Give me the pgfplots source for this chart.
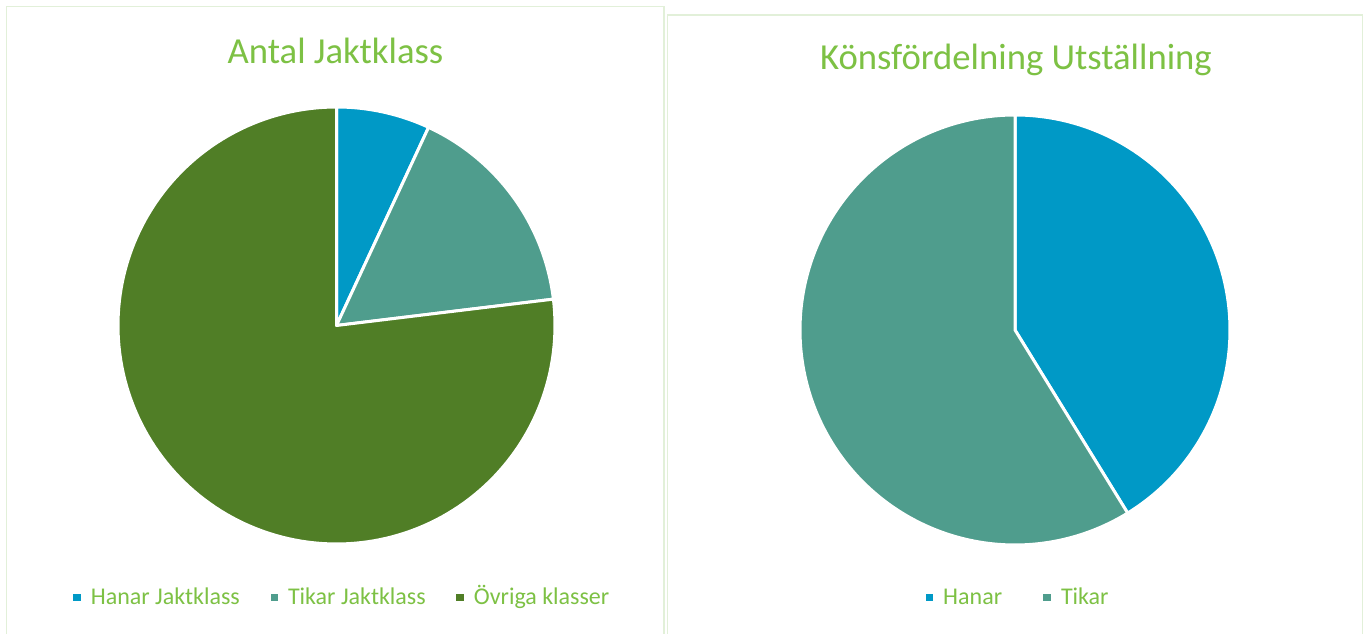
\documentclass[border=0pt]{standalone}
\usepackage{pgfplots}
\pgfplotsset{compat=1.18}
\usepackage{pgfplotstable}
\usepackage{fontspec}
\setmainfont{Carlito}

\definecolor{cBlue}{RGB}{0,153,198}
\definecolor{cTeal}{RGB}{79,157,141}
\definecolor{cGreen}{RGB}{80,126,38}
\definecolor{tgreen}{RGB}{125,193,68}
\definecolor{frameg}{RGB}{226,240,217}

% Antal Jaktklass
\pgfplotstableread{
kategori antal
Hanar 9
Tikar 21
Ovriga 100
}\jaktdata
% Könsfördelning Utställning
\pgfplotstableread{
kategori antal
Hanar 54
Tikar 77
}\konsdata

\pgfplotstablegetelem{0}{antal}\of\jaktdata\edef\jA{\pgfplotsretval}
\pgfplotstablegetelem{1}{antal}\of\jaktdata\edef\jB{\pgfplotsretval}
\pgfplotstablegetelem{2}{antal}\of\jaktdata\edef\jC{\pgfplotsretval}
\pgfplotstablegetelem{0}{antal}\of\konsdata\edef\kA{\pgfplotsretval}
\pgfplotstablegetelem{1}{antal}\of\konsdata\edef\kB{\pgfplotsretval}

\pgfmathsetmacro\jT{\jA+\jB+\jC}
\pgfmathsetmacro\jaOne{90-360*(\jA/\jT)}
\pgfmathsetmacro\jaTwo{90-360*((\jA+\jB)/\jT)}
\pgfmathsetmacro\kT{\kA+\kB}
\pgfmathsetmacro\kaOne{90-360*(\kA/\kT)}

\pgfplotsset{
  piestyle/.style={
    hide axis, scale only axis, clip=false,
    xmin=-1, xmax=1, ymin=-1, ymax=1,
    anchor=center,
    legend image code/.code={\path[##1, draw=none] (0pt,2.9pt) rectangle (5.55pt,8.45pt);},
    legend style={draw=none, fill=none, inner sep=0pt, outer sep=0pt,
      anchor=south west, legend columns=-1,
      font=\fontsize{18}{20}\selectfont, text=tgreen,
      cells={anchor=base west},
      nodes={inner sep=0pt, text depth=0pt, text height=10pt},
      /tikz/every odd column/.append style={column sep=7.6pt}},
  },
  wedge/.style={draw=white, line width=2.25pt, line join=round, samples=160},
}

\begin{document}
\begin{tikzpicture}
\useasboundingbox (0pt,0pt) rectangle (1023pt,475.5pt);
\fill[white] (0pt,0pt) rectangle (1023pt,475.5pt);
% frames
\begin{scope}[x=0.75pt, y=0.75pt]
\draw[frameg, line width=1.3pt] (6.5,-20) -- (6.5,627.5) -- (664,627.5) -- (664,-20);
\draw[frameg, line width=1.3pt] (667.5,-20) -- (667.5,619) -- (1362.5,619) -- (1362.5,-20);
% titles
\node[anchor=base, inner sep=0pt, text=tgreen, font=\fontsize{27.5}{30}\selectfont] at (335.5,570.7) {Antal Jaktklass};
\node[anchor=base, inner sep=0pt, text=tgreen, font=\fontsize{27.5}{30}\selectfont] at (1016,564) {Könsfördelning Utställning};
\end{scope}

% left pie
\begin{axis}[piestyle, at={(252.375pt,231.375pt)}, width=327.75pt, height=327.75pt,
  legend style={at={(-0.1023,-0.1396)},
    /tikz/every even column/.append style={column sep=23pt}}]
\addplot[wedge, fill=cBlue, domain=\jaOne:90] ({cos(x)},{sin(x)}) -- (axis cs:0,0) -- cycle;
\addlegendentry{Hanar Jaktklass}
\addplot[wedge, fill=cTeal, domain=\jaTwo:\jaOne] ({cos(x)},{sin(x)}) -- (axis cs:0,0) -- cycle;
\addlegendentry{Tikar Jaktklass}
\addplot[wedge, fill=cGreen, domain=-270:\jaTwo] ({cos(x)},{sin(x)}) -- (axis cs:0,0) -- cycle;
\addlegendentry{Övriga klasser}
\end{axis}

% right pie
\begin{axis}[piestyle, at={(761.25pt,228pt)}, width=322.5pt, height=322.5pt,
  legend style={at={(0.2923,-0.1395)},
    /tikz/every even column/.append style={column sep=31pt}}]
\addplot[wedge, fill=cBlue, domain=\kaOne:90] ({cos(x)},{sin(x)}) -- (axis cs:0,0) -- cycle;
\addlegendentry{Hanar}
\addplot[wedge, fill=cTeal, domain=-270:\kaOne] ({cos(x)},{sin(x)}) -- (axis cs:0,0) -- cycle;
\addlegendentry{Tikar}
\end{axis}
\end{tikzpicture}
\end{document}
